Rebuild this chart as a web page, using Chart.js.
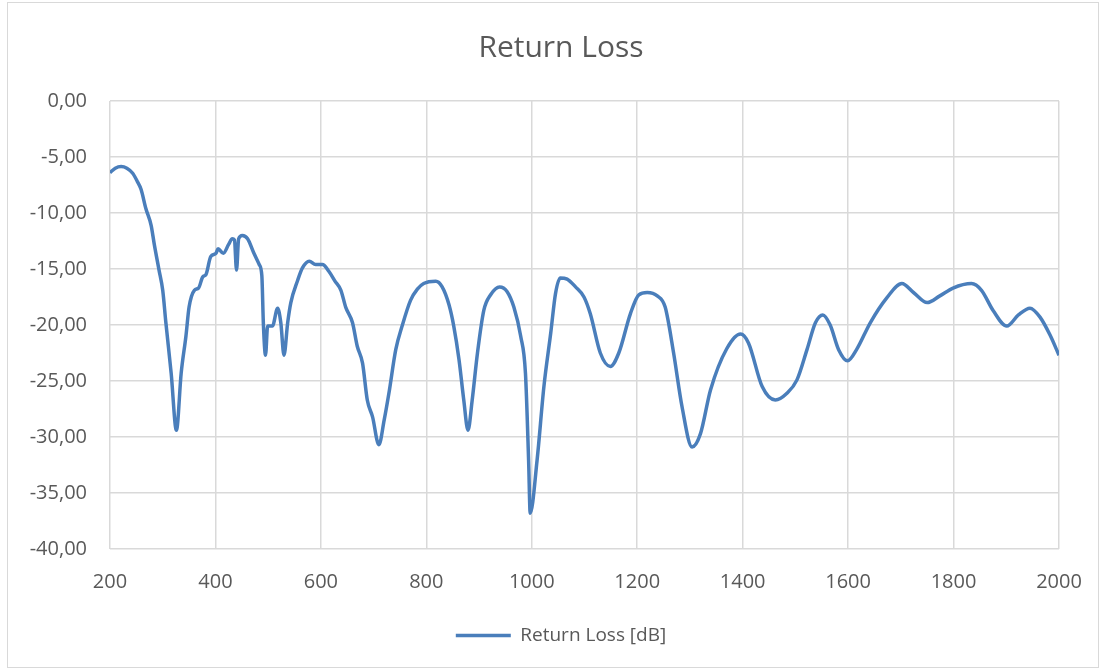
<!DOCTYPE html>
<html>
<head>
<meta charset="utf-8">
<script src="https://cdn.jsdelivr.net/npm/chart.js@4"></script>
<style>
  html, body { margin: 0; padding: 0; background: #fff; }
  #frame { position: absolute; left: 7px; top: 2px; width: 1090px; height: 664px; border: 1px solid #d9d9d9; }
  #grafico { position: absolute; left: 0; top: 0; }
</style>
</head>
<body>
<div id="frame"></div>
<canvas id="grafico" width="1105" height="670"></canvas>
<script>
// frecuencia (MHz) y pérdida de retorno (dB)
const frecuencias = [
  200, 210, 221, 232, 243, 252, 259, 268, 278, 284, 293, 300, 306, 316, 326, 335, 344, 350, 360, 368,
  376, 382, 391, 401, 405, 415, 425, 432, 436, 440, 444, 451, 461, 473, 483, 488, 491, 495, 499, 508,
  518, 524, 530, 537, 543, 556, 565, 578, 590, 603, 615, 627, 638, 647, 660, 669, 679, 688, 698, 710,
  720, 729, 742, 754, 770, 783, 795, 818, 830, 843, 852, 862, 871, 879, 887, 897, 909, 922, 939, 953,
  966, 979, 988, 994, 997, 1010, 1023, 1036, 1045, 1054, 1067, 1083, 1099, 1111, 1130, 1149, 1165, 1187, 1203, 1219,
  1238, 1253, 1269, 1285, 1304, 1320, 1339, 1370, 1396, 1411, 1437, 1462, 1484, 1503, 1522, 1538, 1552, 1566, 1582, 1599,
  1616, 1642, 1673, 1702, 1724, 1750, 1774, 1799, 1834, 1853, 1875, 1901, 1923, 1945, 1964, 1983, 2000
];
const returnLoss = [
  -6.4, -6.0, -5.85, -6.0, -6.45, -7.2, -7.9, -9.6, -11.1, -12.8, -15.1, -16.9, -19.8, -24.3, -29.4, -24.3, -21.0, -18.4, -16.9, -16.7,
  -15.7, -15.5, -13.9, -13.6, -13.2, -13.6, -12.8, -12.3, -12.4, -15.1, -12.3, -12.0, -12.3, -13.6, -14.6, -15.6, -20.0, -22.7, -20.1, -20.1,
  -18.5, -19.8, -22.7, -19.8, -18.0, -16.0, -14.9, -14.3, -14.6, -14.6, -15.2, -16.1, -16.9, -18.4, -19.8, -21.9, -23.4, -26.7, -28.2, -30.7,
  -28.5, -26.1, -22.2, -20.1, -17.8, -16.8, -16.3, -16.1, -16.6, -18.2, -20.1, -23.1, -26.7, -29.4, -26.7, -22.5, -18.7, -17.3, -16.6, -17.0,
  -18.4, -21.0, -24.3, -32.1, -36.8, -32.1, -25.5, -20.7, -17.2, -15.8, -15.9, -16.6, -17.5, -19.0, -22.5, -23.7, -22.5, -19.0, -17.3, -17.1,
  -17.4, -18.4, -22.5, -27.3, -30.9, -29.7, -25.8, -22.1, -20.8, -21.6, -25.5, -26.7, -26.1, -24.9, -22.2, -19.8, -19.1, -20.0, -22.2, -23.2,
  -22.2, -19.8, -17.6, -16.3, -17.1, -18.0, -17.4, -16.7, -16.3, -16.9, -18.7, -20.1, -19.1, -18.5, -19.3, -20.9, -22.7
];
const ejeX = { min: 200, max: 2000, paso: 200 };
const ejeY = { min: -40, max: 0, paso: 5 };

const gris = "#595959";
const fuente = "'Open Sans', 'Noto Sans', sans-serif";

// en Excel el título y la leyenda quedan algo más a la derecha que el centro del lienzo
const centrarBloques = {
    id: "centrarBloques",
    afterLayout(chart) {
        chart.titleBlock.left = 63;
        chart.legend.left = 63;
    }
};

const ctx = document.getElementById("grafico").getContext("2d");
new Chart(ctx, {
    type: "line",
    data: {
        datasets: [{
            label: "Return Loss [dB]",
            data: frecuencias.map((f, i) => ({ x: f, y: returnLoss[i] })),
            borderColor: "#4a7ebb",
            backgroundColor: "#4a7ebb",
            borderWidth: 3.5,
            pointRadius: 0,
            fill: false,
            cubicInterpolationMode: "monotone"
        }]
    },
    options: {
        responsive: false,
        animation: false,
        layout: { padding: { left: 0, right: 46, top: 0, bottom: 15 } },
        plugins: {
            title: {
                display: true,
                text: "Return Loss",
                color: gris,
                font: { family: fuente, size: 30, weight: "normal" },
                padding: { top: 30, bottom: 35 }
            },
            legend: {
                position: "bottom",
                labels: {
                    color: gris,
                    font: { family: fuente, size: 19 },
                    usePointStyle: true,
                    pointStyle: "line",
                    pointStyleWidth: 55,
                    padding: 11
                }
            },
            tooltip: { enabled: false }
        },
        scales: {
            x: {
                type: "linear",
                min: ejeX.min,
                max: ejeX.max,
                ticks: {
                    stepSize: ejeX.paso,
                    color: gris,
                    font: { family: fuente, size: 20 },
                    padding: 21,
                    maxRotation: 0,
                    callback: v => String(v)
                },
                grid: { color: "#d9d9d9", lineWidth: 1.5, drawTicks: false },
                border: { display: false }
            },
            y: {
                min: ejeY.min,
                max: ejeY.max,
                ticks: {
                    stepSize: ejeY.paso,
                    color: gris,
                    font: { family: fuente, size: 20 },
                    padding: 23,
                    callback: v => v.toFixed(2).replace(".", ",")
                },
                grid: { color: "#d9d9d9", lineWidth: 1.5, drawTicks: false },
                border: { display: false },
                afterFit: function (scale) { scale.width = 110; }
            }
        }
    },
    plugins: [centrarBloques]
});
</script>
</body>
</html>
